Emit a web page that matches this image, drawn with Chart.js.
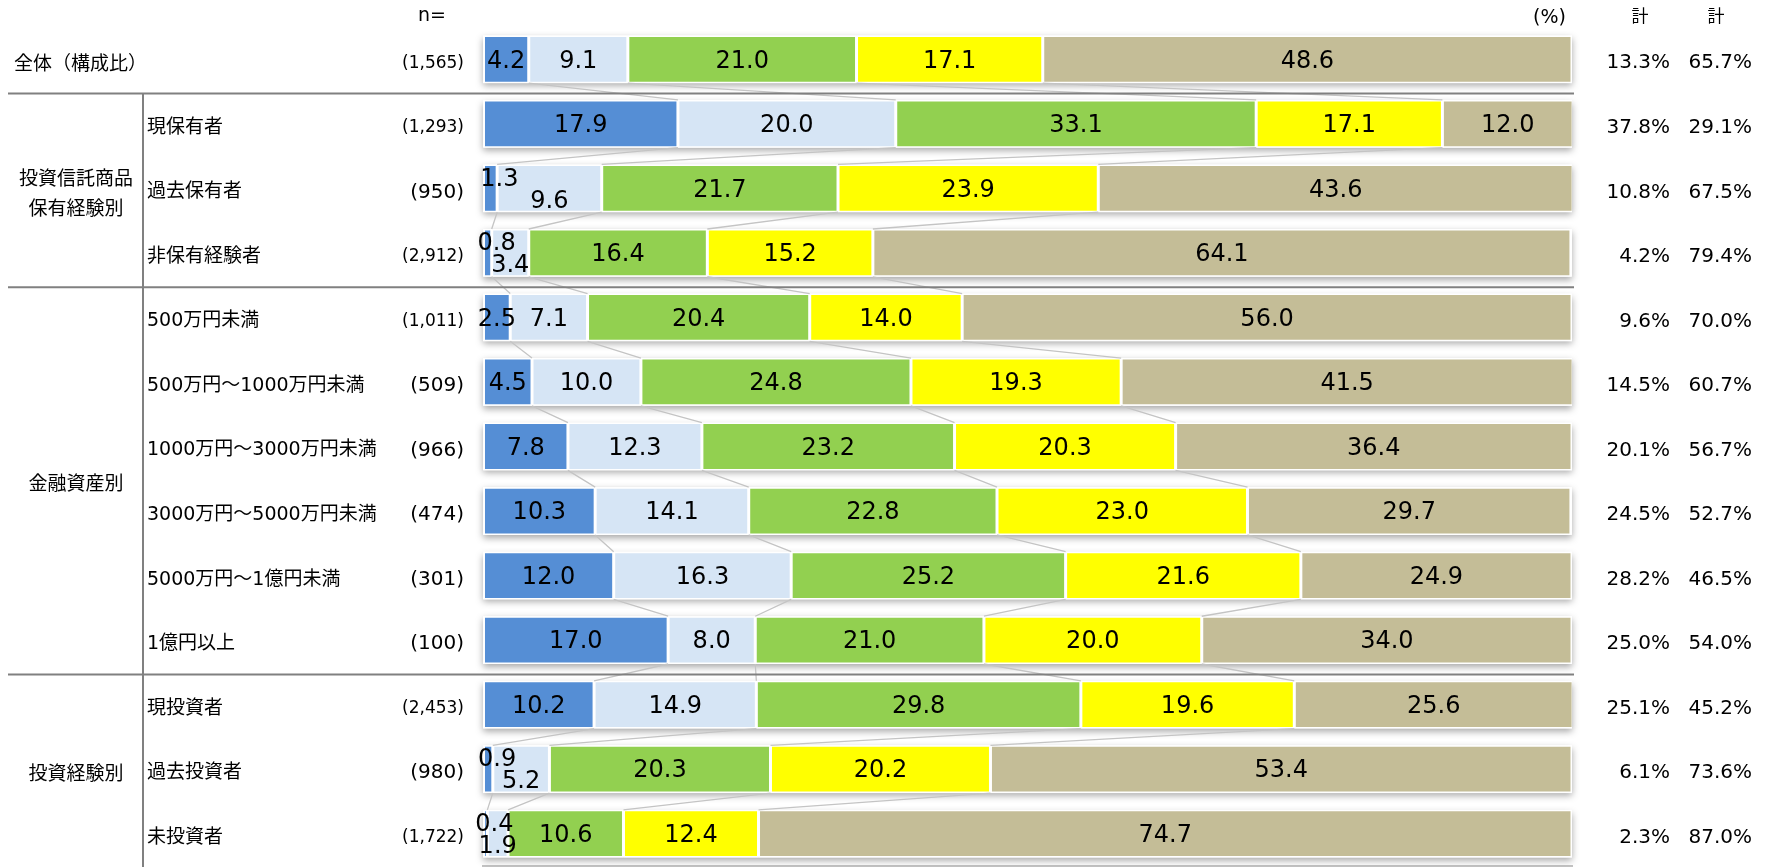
<!DOCTYPE html>
<html lang="ja">
<head>
<meta charset="utf-8">
<script src="https://cdn.jsdelivr.net/npm/chart.js@4.4.1/dist/chart.umd.min.js"></script>
<style>
html,body{margin:0;padding:0;background:#fff;overflow:hidden;}
#wrap{position:relative;width:1773px;height:867px;}
</style>
</head>
<body>
<div id="wrap"><canvas id="chart"></canvas></div>
<script>

const categories = [
    "全体（構成比）",
    "現保有者", "過去保有者", "非保有経験者",
    "500万円未満", "500万円～1000万円未満", "1000万円～3000万円未満",
    "3000万円～5000万円未満", "5000万円～1億円未満", "1億円以上",
    "現投資者", "過去投資者", "未投資者"
];

const nLabels = ["(1,565)", "(1,293)", "(950)", "(2,912)", "(1,011)", "(509)", "(966)", "(474)", "(301)", "(100)", "(2,453)", "(980)", "(1,722)"];

const seriesNames = ["区分1", "区分2", "区分3", "区分4", "区分5"];
const seriesColors = ["#558ed5", "#d6e5f5", "#92d050", "#ffff00", "#c4bd97"];

const series1 = [4.2, 17.9, 1.3, 0.8, 2.5, 4.5, 7.8, 10.3, 12.0, 17.0, 10.2, 0.9, 0.4];
const series2 = [9.1, 20.0, 9.6, 3.4, 7.1, 10.0, 12.3, 14.1, 16.3, 8.0, 14.9, 5.2, 1.9];
const series3 = [21.0, 33.1, 21.7, 16.4, 20.4, 24.8, 23.2, 22.8, 25.2, 21.0, 29.8, 20.3, 10.6];
const series4 = [17.1, 17.1, 23.9, 15.2, 14.0, 19.3, 20.3, 23.0, 21.6, 20.0, 19.6, 20.2, 12.4];
const series5 = [48.6, 12.0, 43.6, 64.1, 56.0, 41.5, 36.4, 29.7, 24.9, 34.0, 25.6, 53.4, 74.7];

const totalLow  = ["13.3%", "37.8%", "10.8%", "4.2%", "9.6%", "14.5%", "20.1%", "24.5%", "28.2%", "25.0%", "25.1%", "6.1%", "2.3%"];
const totalHigh = ["65.7%", "29.1%", "67.5%", "79.4%", "70.0%", "60.7%", "56.7%", "52.7%", "46.5%", "54.0%", "45.2%", "73.6%", "87.0%"];

const groups = [
    { lines: ["投資信託商品", "保有経験別"], from: 1, to: 3 },
    { lines: ["金融資産別"], from: 4, to: 9 },
    { lines: ["投資経験別"], from: 10, to: 12 }
];
const separatorsAfter = [0, 3, 9];

const jpFont = "'Noto Sans CJK JP', 'Noto Sans', sans-serif";
const mixFont = "'DejaVu Sans', 'Noto Sans CJK JP', sans-serif";
const numFont = "'DejaVu Sans', sans-serif";

const rowShadow = {
    id: "rowShadow",
    beforeDatasetsDraw(chart){
        const ctx = chart.ctx;
        const x = chart.scales.x;
        const x0 = x.getPixelForValue(0);
        const x1 = x.getPixelForValue(100);
        ctx.save();
        ctx.shadowColor = "rgba(0,0,0,0.35)";
        ctx.shadowBlur = 7;
        ctx.shadowOffsetY = 3;
        ctx.fillStyle = "#fff";
        for(const bar of chart.getDatasetMeta(0).data){
            const p = bar.getProps(["y", "height"], true);
            ctx.fillRect(x0, p.y - p.height / 2, x1 - x0, p.height);
        }
        ctx.restore();
    }
};

const seriesLines = {
    id: "seriesLines",
    afterDatasetsDraw(chart){
        const ctx = chart.ctx;
        ctx.save();
        ctx.strokeStyle = "#c4c4c4";
        ctx.lineWidth = 1.3;
        for(let j = 0; j < 4; j++){
            const bars = chart.getDatasetMeta(j).data;
            for(let i = 0; i < bars.length - 1; i++){
                const a = bars[i].getProps(["x", "y", "height"], true);
                const b = bars[i + 1].getProps(["x", "y", "height"], true);
                ctx.beginPath();
                ctx.moveTo(a.x, a.y + a.height / 2);
                ctx.lineTo(b.x, b.y - b.height / 2);
                ctx.stroke();
            }
        }

        // values inside the segments
        ctx.fillStyle = "#000";
        ctx.font = "24px " + numFont;
        ctx.textAlign = "center";
        ctx.textBaseline = "middle";
        chart.data.datasets.forEach((ds, j) => {
            chart.getDatasetMeta(j).data.forEach((bar, i) => {
                const p = bar.getProps(["x", "y", "base"], true);
                let cx = (p.x + p.base) / 2;
                let cy = p.y + 2;
                const tiny = chart.data.datasets[0].data[i] < 2;
                if(tiny && j === 0){ cx += 9; cy -= 11; }
                if(tiny && j === 1){ cy += 11; }
                ctx.fillText(ds.data[i].toFixed(1), cx, cy);
            });
        });
        ctx.restore();
    }
};

const sideTexts = {
    id: "sideTexts",
    afterDraw(chart){
        const ctx = chart.ctx;
        const y = chart.scales.y;
        const area = chart.chartArea;
        const step = y.getPixelForValue(1) - y.getPixelForValue(0);

        ctx.save();
        ctx.strokeStyle = "#808080";
        ctx.lineWidth = 2;
        const firstSep = y.getPixelForValue(0) + step / 2 + 2;
        for(const i of separatorsAfter){
            const sy = y.getPixelForValue(i) + step / 2 + 2;
            ctx.beginPath();
            ctx.moveTo(8, sy);
            ctx.lineTo(area.right + 2, sy);
            ctx.stroke();
        }
        ctx.beginPath();
        ctx.moveTo(143, firstSep);
        ctx.lineTo(143, 867);
        ctx.stroke();

        ctx.fillStyle = "#000";
        ctx.textBaseline = "middle";

        categories.forEach((name, i) => {
            const cy = y.getPixelForValue(i) + 4;
            ctx.textAlign = "left";
            if(i === 0){
                ctx.font = "19px " + jpFont;
                ctx.fillText(name, 14, cy);
            }else{
                ctx.font = "19px " + mixFont;
                ctx.fillText(name, 147, cy);
            }

            ctx.font = (nLabels[i].length > 5 ? "17px " : "20px ") + numFont;
            ctx.textAlign = "right";
            ctx.fillText(nLabels[i], 464, cy);

            ctx.font = "20px " + numFont;
            ctx.fillText(totalLow[i], 1670, cy);
            ctx.fillText(totalHigh[i], 1752, cy);
        });

        ctx.font = "19px " + jpFont;
        ctx.textAlign = "center";
        for(const g of groups){
            const cy = (y.getPixelForValue(g.from) + y.getPixelForValue(g.to)) / 2 + 4;
            const top = cy - (g.lines.length - 1) * 15;
            g.lines.forEach((t, k) => ctx.fillText(t, 76, top + k * 30));
        }

        ctx.font = "19px " + numFont;
        ctx.textAlign = "left";
        ctx.fillText("n=", 418, 16);
        ctx.textAlign = "right";
        ctx.fillText("(%)", area.right - 6, 18);
        ctx.font = "17px " + jpFont;
        ctx.textAlign = "center";
        ctx.fillText("計", 1640, 16);
        ctx.fillText("計", 1716, 16);
        ctx.restore();
    }
};

const datasets = [series1, series2, series3, series4, series5].map((values, j) => ({
    label: seriesNames[j],
    data: values,
    backgroundColor: seriesColors[j],
    borderColor: "#ffffff",
    borderWidth: 1.5,
    borderSkipped: false,
    barPercentage: 0.74,
    categoryPercentage: 1
}));

new Chart(document.getElementById("chart"), {
    type: "bar",
    data: { labels: categories, datasets },
    options: {
        indexAxis: "y",
        responsive: true,
        maintainAspectRatio: false,
        animation: false,
        layout: { padding: { left: 483, right: 201, top: 27, bottom: 1 } },
        plugins: {
            legend: { display: false },
            tooltip: { enabled: false }
        },
        scales: {
            x: {
                stacked: true,
                min: 0,
                max: 100,
                ticks: { display: false },
                grid: { drawOnChartArea: false, drawTicks: false },
                border: { color: "#c4c4c4", width: 3 }
            },
            y: {
                stacked: true,
                display: false
            }
        }
    },
    plugins: [rowShadow, seriesLines, sideTexts]
});

</script>
</body>
</html>
